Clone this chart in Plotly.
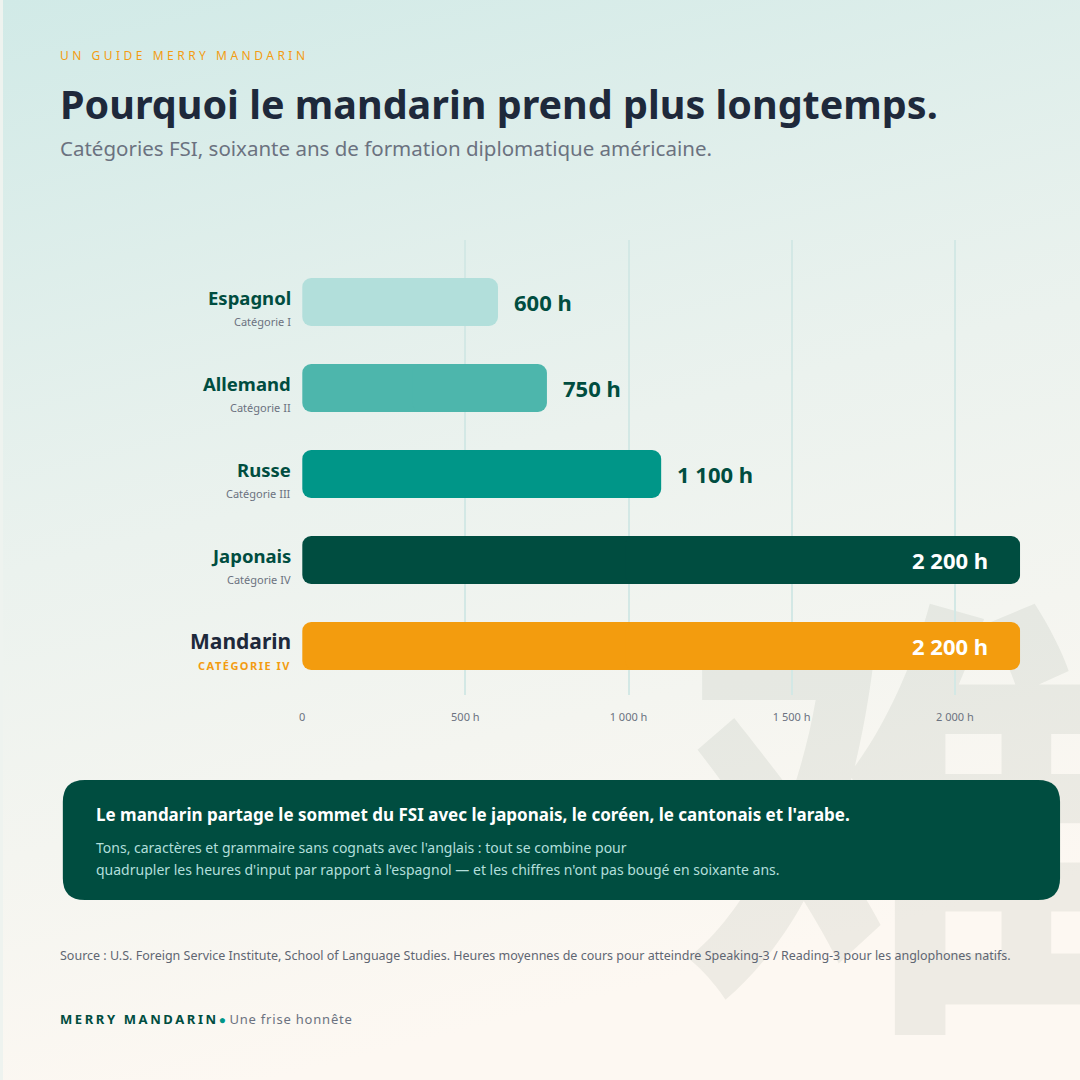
import base64

import plotly.graph_objects as go

# données (heures FSI)
LANGUAGES = ["Espagnol", "Allemand", "Russe", "Japonais", "Mandarin"]
CATEGORIES = ["Catégorie I", "Catégorie II", "Catégorie III", "Catégorie IV", "Catégorie IV"]
HOURS = [600, 750, 1100, 2200, 2200]
TICK_VALUES = [0, 500, 1000, 1500, 2000]
TICK_LABELS = ["0", "500 h", "1 000 h", "1 500 h", "2 000 h"]

BAR_COLORS = ["#b2dfdb", "#4db6ac", "#009688", "#004d40", "#f39c0e"]
HIGHLIGHT = "Mandarin"
WATERMARK = "难"

FONT = "Noto Sans"
DARK = "#004d40"
INK = "#1e293b"
GREY = "#6b7280"
ORANGE = "#f39c12"

W, H = 1080, 1080
# zone du graphique, en pixels
L, R, T, B = 300, 1020, 240, 695
ROW = 86  # pixels par rangée


def fx(px):
    return px / W


def fy(py):
    return 1 - py / H


def rounded_rect(x0, y0, x1, y1, r):
    """chemin d'un rectangle arrondi en coordonnées paper (entrées en pixels)"""
    pts = [
        f"M {fx(x0 + r)},{fy(y0)}",
        f"L {fx(x1 - r)},{fy(y0)}",
        f"Q {fx(x1)},{fy(y0)} {fx(x1)},{fy(y0 + r)}",
        f"L {fx(x1)},{fy(y1 - r)}",
        f"Q {fx(x1)},{fy(y1)} {fx(x1 - r)},{fy(y1)}",
        f"L {fx(x0 + r)},{fy(y1)}",
        f"Q {fx(x0)},{fy(y1)} {fx(x0)},{fy(y1 - r)}",
        f"L {fx(x0)},{fy(y0 + r)}",
        f"Q {fx(x0)},{fy(y0)} {fx(x0 + r)},{fy(y0)}",
        "Z",
    ]
    return " ".join(pts)


def fmt_hours(v):
    return f"{v:,}".replace(",", " ") + " h"


# fond dégradé
svg = (
    f'<svg xmlns="http://www.w3.org/2000/svg" width="{W}" height="{H}">'
    '<defs><linearGradient id="g" x1="0" y1="0" x2="0.25" y2="1">'
    '<stop offset="0" stop-color="#d1eae7"/>'
    '<stop offset="0.5" stop-color="#ebf2ee"/>'
    '<stop offset="1" stop-color="#fdf8f2"/>'
    "</linearGradient></defs>"
    f'<rect width="{W}" height="{H}" fill="url(#g)"/></svg>'
)
bg_src = "data:image/svg+xml;base64," + base64.b64encode(svg.encode()).decode()

fig = go.Figure()

# filigrane : sous-graphique plein cadre dessiné avant celui des barres
fig.add_trace(
    go.Scatter(
        x=[910],
        y=[878],
        mode="text",
        text=[WATERMARK],
        textposition="middle center",
        textfont=dict(family="Noto Sans CJK SC", size=460, color="rgba(90,110,90,0.09)", weight="bold"),
        cliponaxis=False,
        hoverinfo="skip",
        showlegend=False,
        xaxis="x",
        yaxis="y",
    )
)

ypos = list(range(len(LANGUAGES)))
bar_w = 48 / ROW
# barres : deux moitiés qui se chevauchent pour arrondir les deux extrémités
fig.add_trace(
    go.Bar(
        y=ypos,
        x=[-0.55 * v for v in HOURS],
        base=[0.55 * v for v in HOURS],
        orientation="h",
        width=bar_w,
        marker=dict(color=BAR_COLORS, line_width=0, cornerradius=9),
        hoverinfo="skip",
        showlegend=False,
        xaxis="x2",
        yaxis="y2",
    )
)
fig.add_trace(
    go.Bar(
        y=ypos,
        x=[0.55 * v for v in HOURS],
        base=[0.45 * v for v in HOURS],
        orientation="h",
        width=bar_w,
        marker=dict(color=BAR_COLORS, line_width=0, cornerradius=9),
        hovertext=[f"{n} : {fmt_hours(v)}" for n, v in zip(LANGUAGES, HOURS)],
        hoverinfo="text",
        showlegend=False,
        xaxis="x2",
        yaxis="y2",
    )
)

ann = []

# libellés des langues
for i, (name, cat) in enumerate(zip(LANGUAGES, CATEGORIES)):
    hi = name == HIGHLIGHT
    ann.append(dict(
        x=fx(291), xref="paper", y=i, yref="y2", yshift=5,
        text=f"<b>{name}</b>", showarrow=False, xanchor="right", yanchor="middle",
        font=dict(family=FONT, size=21 if hi else 18.5, color=INK if hi else DARK),
    ))
    sub = (
        f"<b><span style='letter-spacing:1.5px'>{cat.upper()}</span></b>" if hi else cat
    )
    ann.append(dict(
        x=fx(291), xref="paper", y=i, yref="y2", yshift=-19,
        text=sub, showarrow=False, xanchor="right", yanchor="middle",
        font=dict(family=FONT, size=11, color=ORANGE if hi else GREY),
    ))

# valeurs
for i, v in enumerate(HOURS):
    inside = v > 1500
    ann.append(dict(
        x=v, xref="x2", y=i, yref="y2",
        xshift=-30 if inside else 14,
        text=f"<b>{fmt_hours(v)}</b>", showarrow=False,
        xanchor="right" if inside else "left", yanchor="middle",
        font=dict(family=FONT, size=22, color="white" if inside else DARK),
    ))


def page_text(px, py, text, size, color, anchor="left"):
    ann.append(dict(
        x=fx(px), y=fy(py), xref="paper", yref="paper", text=text, showarrow=False,
        xanchor=anchor, yanchor="middle", font=dict(family=FONT, size=size, color=color),
    ))


page_text(55, 55, "<span style='letter-spacing:3.5px'>UN GUIDE MERRY MANDARIN</span>", 12, ORANGE)
page_text(55, 104, "<b>Pourquoi le mandarin prend plus longtemps.</b>", 39.5, INK)
page_text(55, 148, "Catégories FSI, soixante ans de formation diplomatique américaine.", 20.5, "#6b7280")

page_text(91, 814, "<b>Le mandarin partage le sommet du FSI avec le japonais, le coréen, "
          "le cantonais et l'arabe.</b>", 17, "white")
page_text(91, 847, "Tons, caractères et grammaire sans cognats avec l'anglais : tout se combine pour",
          14, "#b2dfdb")
page_text(91, 869, "quadrupler les heures d'input par rapport à l'espagnol — et les chiffres "
          "n'ont pas bougé en soixante ans.", 14, "#b2dfdb")

page_text(55, 955, "Source : U.S. Foreign Service Institute, School of Language Studies. "
          "Heures moyennes de cours pour atteindre Speaking-3 / Reading-3 pour les anglophones natifs.",
          12.5, "#5f6672")

page_text(55, 1019,
          f"<b><span style='letter-spacing:2.6px;color:{DARK}'>MERRY MANDARIN</span></b>"
          "<span style='color:#009688;font-size:12px'>●</span> "
          "<span style='letter-spacing:0.8px'>Une frise honnête</span>",
          13, GREY)

fig.update_layout(
    width=W,
    height=H,
    margin=dict(l=0, r=0, t=0, b=0, pad=0),
    paper_bgcolor="#eef3ef",
    plot_bgcolor="rgba(0,0,0,0)",
    font=dict(family=FONT, color=GREY),
    barmode="overlay",
    showlegend=False,
    xaxis=dict(domain=[0, 1], range=[0, W], visible=False, fixedrange=True),
    yaxis=dict(domain=[0, 1], range=[H, 0], visible=False, fixedrange=True),
    xaxis2=dict(
        domain=[L / W, R / W], anchor="y2", range=[0, 2200],
        tickvals=TICK_VALUES, ticktext=TICK_LABELS,
        showgrid=True, gridcolor="#d3e8e5", gridwidth=2,
        zeroline=False, showline=False, ticks="", ticklabelstandoff=14,
        tickfont=dict(family=FONT, size=11, color=GREY),
    ),
    yaxis2=dict(
        domain=[1 - B / H, 1 - T / H], anchor="x2",
        range=[(B - T - 62) / ROW, -62 / ROW],
        showticklabels=False, showgrid=False, zeroline=False,
    ),
    images=[dict(
        source=bg_src, xref="paper", yref="paper",
        x=0, y=1, sizex=1, sizey=1,
        xanchor="left", yanchor="top", sizing="stretch", layer="below",
    )],
    shapes=[dict(
        type="path", xref="paper", yref="paper",
        path=rounded_rect(60, 780, 1060, 900, 22),
        fillcolor=DARK, line_width=0, layer="above",
    )],
    annotations=ann,
)

fig.write_html(
    "out.html",
    config={"displayModeBar": False},
    post_script="document.body.style.margin='0';",
)
